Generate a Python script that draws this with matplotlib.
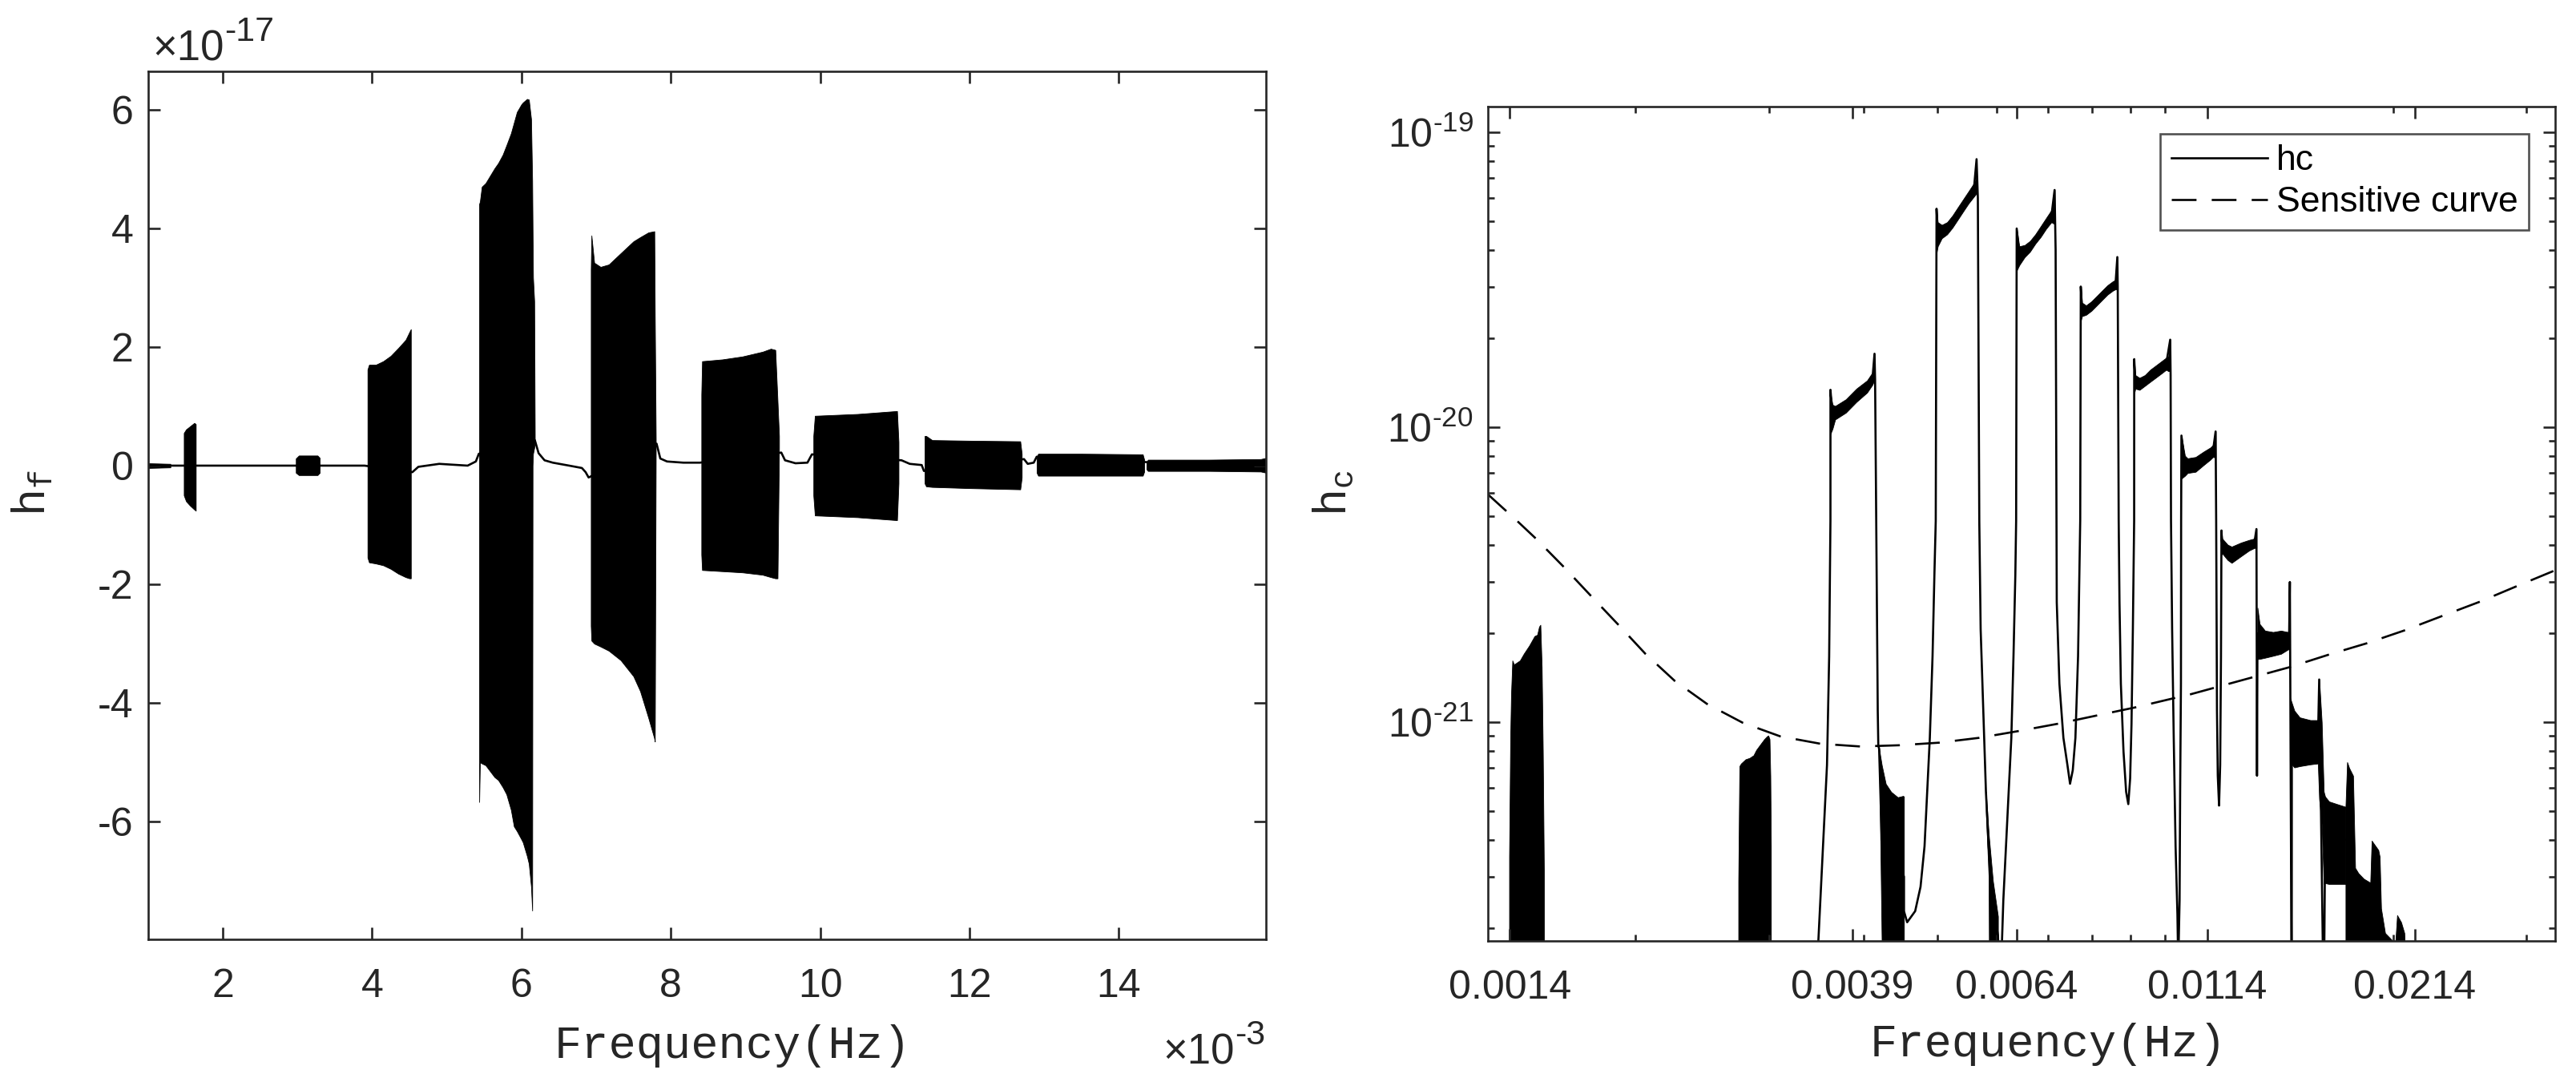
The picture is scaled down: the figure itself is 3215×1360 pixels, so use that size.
"""
Two-panel strain plot: h_f against frequency (linear) and characteristic
strain h_c against frequency (log-log) with the detector sensitivity curve.
Values are read off the reference figure.
"""

import numpy as np
import matplotlib
matplotlib.use("Agg")
import matplotlib.pyplot as plt
from matplotlib.ticker import FixedLocator, FixedFormatter, FuncFormatter, LogLocator, NullFormatter

plt.rcParams["font.family"] = ["Liberation Sans", "DejaVu Sans"]
plt.rcParams["axes.unicode_minus"] = False
plt.rcParams["mathtext.fontset"] = "custom"
plt.rcParams["mathtext.tt"] = "Liberation Mono"
plt.rcParams["mathtext.rm"] = "Liberation Sans"

AXIS_COLOR = "#262626"
XSCALE = 1e-3    # left panel frequency unit
YSCALE = 1e-17   # left panel strain unit
FLOOR = 1e-23    # hc far below the plotted range

# ---------------- left panel: h_f (x in 1e-3 Hz, y in 1e-17) ----------------
LEFT_LINE_X = [1.00, 2.00, 3.90, 4.54, 4.62, 4.90, 5.28, 5.39, 5.43, 6.18, 6.23, 6.31,
               6.42, 6.64, 6.81, 6.86, 6.90, 7.81, 7.86, 7.95, 8.17, 8.39, 9.48, 9.53,
               9.67, 9.83, 9.89, 11.09, 11.20, 11.36, 11.39, 12.73, 12.78, 12.86, 12.90,
               14.36, 15.97]
LEFT_LINE_Y = [0.0, 0.0, 0.0, -0.11, -0.02, 0.03, 0.0, 0.07, 0.20, 0.43, 0.21, 0.09,
               0.05, 0.0, -0.04, -0.11, -0.20, 0.37, 0.12, 0.07, 0.05, 0.05, 0.22, 0.09,
               0.04, 0.05, 0.19, 0.09, 0.03, 0.01, -0.09, 0.11, 0.03, 0.05, 0.15,
               0.06, 0.0]

LEFT_BLOCK_X = [
    [1.00, 1.30],
    [1.48, 1.51, 1.56, 1.62, 1.64],
    [2.98, 3.02, 3.15, 3.27, 3.30],
    [3.94, 3.96, 4.05, 4.15, 4.25, 4.35, 4.45, 4.50, 4.52],
    [5.435, 5.445, 5.47, 5.52, 5.64, 5.69, 5.75, 5.80, 5.86, 5.90, 5.94, 6.00, 6.02,
     6.075, 6.10, 6.13, 6.145, 6.15, 6.156, 6.172, 6.18],
    [6.93, 6.938, 6.975, 7.06, 7.17, 7.33, 7.50, 7.59, 7.70, 7.78, 7.787, 7.80],
    [8.41, 8.42, 8.69, 8.96, 9.23, 9.34, 9.40, 9.43, 9.45],
    [9.91, 9.93, 10.5, 11.03, 11.05],
    [11.40, 11.42, 11.50, 12.0, 12.68, 12.70],
    [12.90, 12.92, 13.5, 14.32, 14.34],
    [14.37, 14.39, 15.2, 15.9, 15.97],
]
LEFT_BLOCK_TOP = [
    [0.04, 0.03],
    [0.55, 0.61, 0.66, 0.72, 0.70],
    [0.12, 0.17, 0.17, 0.17, 0.13],
    [1.62, 1.70, 1.70, 1.76, 1.85, 1.98, 2.12, 2.25, 2.30],
    [4.41, 4.45, 4.70, 4.76, 5.01, 5.10, 5.24, 5.40, 5.60, 5.78, 5.96, 6.09, 6.12,
     6.18, 6.17, 5.84, 4.80, 4.00, 3.17, 2.77, 0.43],
    [3.30, 3.88, 3.42, 3.35, 3.39, 3.58, 3.78, 3.85, 3.93, 3.95, 2.50, 0.40],
    [1.20, 1.76, 1.79, 1.84, 1.92, 1.97, 1.95, 1.09, 0.50],
    [0.50, 0.84, 0.87, 0.92, 0.40],
    [0.50, 0.50, 0.43, 0.42, 0.41, 0.20],
    [0.15, 0.20, 0.20, 0.19, 0.10],
    [0.06, 0.10, 0.10, 0.11, 0.13],
]
LEFT_BLOCK_BOT = [
    [-0.04, -0.03],
    [-0.50, -0.60, -0.67, -0.74, -0.76],
    [-0.12, -0.16, -0.16, -0.16, -0.12],
    [-1.55, -1.63, -1.65, -1.68, -1.74, -1.82, -1.88, -1.90, -1.90],
    [-5.67, -5.00, -5.02, -5.05, -5.25, -5.30, -5.42, -5.54, -5.80, -6.08, -6.16, -6.30,
     -6.35, -6.58, -6.71, -7.10, -7.50, 0.0, 0.20, 0.30, 0.43],
    [-2.70, -2.95, -3.00, -3.05, -3.12, -3.28, -3.55, -3.80, -4.25, -4.60, -4.65, 0.40],
    [-1.50, -1.76, -1.78, -1.80, -1.84, -1.88, -1.90, -1.90, 0.30],
    [-0.50, -0.84, -0.87, -0.92, -0.30],
    [-0.30, -0.35, -0.36, -0.38, -0.40, -0.20],
    [-0.12, -0.17, -0.17, -0.17, -0.10],
    [-0.06, -0.09, -0.09, -0.10, -0.12],
]
LEFT_XTICKS = [2, 4, 6, 8, 10, 12, 14]
LEFT_YTICKS = [-6, -4, -2, 0, 2, 4, 6]

# ---------------- right panel: h_c (Hz, strain) ----------------
RIGHT_LINE_F = [0.00347, 0.0034864, 0.0035358, 0.003579, 0.0036026, 0.0036166, 0.003617,
                0.0036394, 0.0039132, 0.004109, 0.004135, 0.0041424, 0.0041758, 0.004183,
                0.0041932, 0.004227, 0.004522, 0.004522, 0.0045664, 0.0046788, 0.0047558,
                0.004814, 0.0048528, 0.004892, 0.0049326, 0.0049604, 0.0049808, 0.004993,
                0.0050116, 0.0051566, 0.005414, 0.0055922, 0.0056388, 0.0056608, 0.0056856,
                0.0057092, 0.0057552, 0.0058016, 0.0058498, 0.0059258, 0.0060176, 0.00606,
                0.0060912, 0.0061164, 0.0061658, 0.006217, 0.0062672, 0.0063084, 0.0063438,
                0.0063594, 0.0063702, 0.0064212, 0.006742, 0.0070788, 0.007148, 0.00717,
                0.007195, 0.007253, 0.0073418, 0.0074318, 0.0074916, 0.0075538, 0.0076148,
                0.0076762, 0.0077268, 0.00774, 0.00777, 0.0079948, 0.008394, 0.008601,
                0.0086494, 0.00866, 0.0086852, 0.0087064, 0.0087426, 0.008813, 0.008884,
                0.0089426, 0.0089928, 0.00903, 0.0090676, 0.009103, 0.009105, 0.0091368,
                0.0095574, 0.0100346, 0.0101572, 0.01017, 0.010182, 0.0102168, 0.0102668,
                0.0103244, 0.0103824, 0.0104078, 0.010451, 0.0104688, 0.0104944, 0.01050,
                0.01051, 0.0106228, 0.0109722, 0.0115672, 0.0116604, 0.0116804, 0.0117088,
                0.0117374, 0.0117832, 0.0118234, 0.0118524, 0.0118696, 0.0118986, 0.0122424,
                0.0131144, 0.0132012, 0.0132238, 0.013243, 0.0138834, 0.0145772, 0.0146128,
                0.014695, 0.0147, 0.0155532, 0.0159132, 0.0159752, 0.0161, 0.0161986,
                0.016266, 0.0173074, 0.0173916, 0.017708, 0.0199172, 0.0207444, 0.0215]
RIGHT_LINE_H = [1.2e-22, 1.82e-22, 3.80e-22, 7.17e-22, 1.673e-21, 4.815e-21, 1.34e-20,
                1.09e-20, 1.28e-20, 1.46e-20, 1.776e-20, 1.45e-20, 1.0955e-21, 8.32e-22,
                8.14e-22, 4.0e-22, 3.0e-22, 2.29e-22, 2.10e-22, 2.29e-22, 2.77e-22,
                3.80e-22, 5.81e-22, 8.86e-22, 1.673e-21, 3.155e-21, 4.815e-21, 5.507e-20,
                4.5e-20, 4.73e-20, 5.65e-20, 6.38e-20, 8.11e-20, 6.0e-20, 4.815e-21,
                2.066e-21, 1.0955e-21, 5.81e-22, 3.80e-22, 2.4e-22, 1.9e-22, 1.2e-22,
                1.82e-22, 2.49e-22, 3.80e-22, 5.81e-22, 8.86e-22, 1.673e-21, 3.155e-21,
                4.815e-21, 4.72e-20, 3.82e-20, 4.35e-20, 5.2e-20, 6.376e-20, 4.0e-20,
                2.553e-21, 1.353e-21, 8.86e-22, 7.17e-22, 6.19e-22, 6.88e-22, 8.86e-22,
                1.673e-21, 4.815e-21, 3.0e-20, 2.51e-20, 2.58e-20, 2.92e-20, 3.05e-20,
                3.777e-20, 3.0e-20, 4.815e-21, 2.553e-21, 1.353e-21, 7.97e-22, 5.81e-22,
                5.28e-22, 6.45e-22, 9.86e-22, 2.066e-21, 4.815e-21, 1.703e-20, 1.43e-20,
                1.5e-20, 1.64e-20, 1.982e-20, 1.5e-20, 4.815e-21, 2.066e-21, 8.86e-22,
                3.80e-22, 2.24e-22, 1.5e-22, 2.49e-22, 5.81e-22, 1.353e-21, 4.815e-21,
                9.376e-21, 7.4e-21, 7.49e-21, 8.3e-21, 9.68e-21, 4.815e-21, 1.0955e-21,
                6.59e-22, 5.22e-22, 7.17e-22, 1.673e-21, 4.47e-21, 3.96e-21, 3.7e-21,
                4.04e-21, 4.52e-21, 6.59e-22, 2.0e-21, 1.85e-21, 1.9e-21, 2.99e-21,
                1.0e-22, 9.0e-22, 8.6e-22, 8.6e-22, 1.397e-21, 3.2e-22, 1.0e-22,
                4.0e-22, 4.0e-22, 4.0e-22, 2.5e-22, 1.5e-22, 1.5e-22, 1.0e-22]

RIGHT_FILL_F = [
    [0.0013622, 0.0013669, 0.0013702, 0.0013756, 0.0013823, 0.0014074, 0.0014246, 0.0014477,
     0.0014714, 0.0014834, 0.001492, 0.0014978, 0.001504, 0.0015089, 0.001514],
    [0.0027336, 0.0027428, 0.0027562, 0.002794, 0.0028282, 0.0028628, 0.0028866, 0.002922,
     0.0029578, 0.0029816, 0.002994, 0.0030058, 0.003013, 0.0030182],
    [0.0036166, 0.0036394, 0.0036688, 0.0037896, 0.0039132, 0.004042, 0.004109, 0.004135],
    [0.0041932, 0.004227, 0.0042788, 0.0043492, 0.004438, 0.004511, 0.004522],
    [0.004993, 0.0050116, 0.005073, 0.0051566, 0.0052414, 0.0053264, 0.005414, 0.005503,
     0.0055922, 0.005629, 0.0056388],
    [0.0058016, 0.0058498, 0.0058872, 0.0059258, 0.0060176],
    [0.0063702, 0.0064212, 0.0065272, 0.006633, 0.006742, 0.006853, 0.0069642, 0.0070788,
     0.0071254, 0.007148],
    [0.00774, 0.00777, 0.0078652, 0.0079948, 0.0081264, 0.008258, 0.008394, 0.0085322,
     0.008601, 0.0086494],
    [0.009103, 0.0091368, 0.0092528, 0.009405, 0.0095574, 0.0097146, 0.0098746, 0.0100346,
     0.0101006, 0.0101572],
    [0.01051, 0.0106228, 0.0107086, 0.0109722, 0.0112424, 0.0114718, 0.0115672, 0.0116604],
    [0.0118696, 0.0118986, 0.0120942, 0.0122424, 0.012596, 0.0129054, 0.0131144, 0.0132012],
    [0.013243, 0.0133304, 0.0135498, 0.0138834, 0.0142254, 0.0145172, 0.0145772, 0.0146128],
    [0.0146128, 0.0148136, 0.0150572, 0.0155532, 0.0159132, 0.0159752, 0.0161, 0.0161986],
    [0.0161986, 0.016266, 0.016461, 0.0168662, 0.0173074],
    [0.0173074, 0.0173916, 0.0175, 0.017708, 0.0178204, 0.017995, 0.0182876, 0.0186614,
     0.0187388, 0.0191214, 0.0192008, 0.0192806, 0.0195168, 0.0199172],
    [0.020078, 0.0202452, 0.0204932, 0.020694, 0.0207444],
]
RIGHT_FILL_TOP = [
    [3.50e-22, 8.86e-22, 1.24e-21, 1.62e-21, 1.57e-21, 1.62e-21, 1.71e-21, 1.82e-21,
     1.96e-21, 1.98e-21, 2.11e-21, 2.14e-21, 1.54e-21, 8.06e-22, 3.15e-22],
    [2.89e-22, 7.10e-22, 7.25e-22, 7.49e-22, 7.57e-22, 7.73e-22, 8.06e-22, 8.41e-22,
     8.77e-22, 8.96e-22, 9.02e-22, 8.77e-22, 6.59e-22, 3.80e-22],
    [1.31e-20, 1.193e-20, 1.181e-20, 1.244e-20, 1.352e-20, 1.441e-20, 1.534e-20, 1.776e-20],
    [8.14e-22, 7.17e-22, 6.19e-22, 5.81e-22, 5.57e-22, 5.63e-22, 5.60e-22],
    [5.507e-20, 4.959e-20, 4.854e-20, 4.959e-20, 5.226e-20, 5.565e-20, 5.926e-20, 6.31e-20,
     6.718e-20, 6.934e-20, 8.11e-20],
    [5.81e-22, 4.2e-22, 3.5e-22, 2.9e-22, 2.2e-22],
    [4.72e-20, 4.108e-20, 4.149e-20, 4.283e-20, 4.512e-20, 4.806e-20, 5.117e-20, 5.45e-20,
     5.623e-20, 6.376e-20],
    [3.0e-20, 2.646e-20, 2.59e-20, 2.673e-20, 2.787e-20, 2.906e-20, 3.03e-20, 3.126e-20,
     3.16e-20, 3.777e-20],
    [1.703e-20, 1.503e-20, 1.471e-20, 1.503e-20, 1.567e-20, 1.617e-20, 1.669e-20, 1.722e-20,
     1.74e-20, 1.982e-20],
    [9.376e-21, 8.01e-21, 7.85e-21, 7.93e-21, 8.27e-21, 8.535e-21, 8.71e-21, 9.68e-21],
    [4.47e-21, 4.196e-21, 4.0e-21, 3.94e-21, 4.066e-21, 4.15e-21, 4.196e-21, 4.52e-21],
    [2.446e-21, 2.155e-21, 2.045e-21, 2.023e-21, 2.045e-21, 2.023e-21, 2.05e-21, 2.99e-21],
    [1.218e-21, 1.0955e-21, 1.039e-21, 1.017e-21, 1.017e-21, 1.397e-21, 1.0e-21, 5.81e-22],
    [5.81e-22, 5.6e-22, 5.39e-22, 5.28e-22, 5.17e-22],
    [5.17e-22, 7.33e-22, 7.0e-22, 6.59e-22, 3.21e-22, 3.08e-22, 2.95e-22, 2.86e-22,
     3.97e-22, 3.69e-22, 3.50e-22, 2.34e-22, 1.93e-22, 1.83e-22],
    [1.6e-22, 2.22e-22, 2.10e-22, 1.93e-22, 1.6e-22],
]
RIGHT_FILL_BOT = [
    [FLOOR] * 15,
    [FLOOR] * 14,
    [9.5e-21, 9.88e-21, 1.063e-20, 1.121e-20, 1.219e-20, 1.311e-20, 1.395e-20, 1.45e-20],
    [8.0e-22, 1.8e-22, FLOOR, FLOOR, FLOOR, FLOOR, FLOOR],
    [3.9e-20, 4.108e-20, 4.373e-20, 4.512e-20, 4.755e-20, 5.061e-20, 5.393e-20, 5.741e-20,
     6.05e-20, 6.177e-20, 6.2e-20],
    [5.0e-22, 3.0e-22, FLOOR, FLOOR, FLOOR],
    [3.4e-20, 3.546e-20, 3.777e-20, 3.939e-20, 4.194e-20, 4.42e-20, 4.705e-20, 4.959e-20,
     4.907e-20, 4.9e-20],
    [2.3e-20, 2.381e-20, 2.406e-20, 2.483e-20, 2.59e-20, 2.701e-20, 2.817e-20, 2.906e-20,
     2.937e-20, 2.93e-20],
    [1.3e-20, 1.352e-20, 1.339e-20, 1.382e-20, 1.426e-20, 1.471e-20, 1.518e-20, 1.567e-20,
     1.55e-20, 1.55e-20],
    [6.7e-21, 6.85e-21, 7.0e-21, 7.066e-21, 7.447e-21, 7.766e-21, 7.93e-21, 7.9e-21],
    [3.7e-21, 3.736e-21, 3.55e-21, 3.47e-21, 3.656e-21, 3.82e-21, 3.898e-21, 3.9e-21],
    [1.638e-21, 1.64e-21, 1.655e-21, 1.68e-21, 1.707e-21, 1.763e-21, 1.77e-21, 1.78e-21],
    [7.33e-22, 7.03e-22, 7.10e-22, 7.2e-22, 7.25e-22, 5.5e-22, 4.5e-22, 2.83e-22],
    [2.83e-22, 2.85e-22, 2.83e-22, 2.83e-22, 2.83e-22],
    [FLOOR] * 14,
    [FLOOR] * 5,
]

SENS_F = [0.0012774, 0.0013956, 0.0014774, 0.0016086, 0.0017448, 0.0019004, 0.0020608,
          0.002253, 0.0024844, 0.0027714, 0.0031054, 0.0035076, 0.003962, 0.0044562,
          0.0050324, 0.0056856, 0.0064212, 0.0072236, 0.0081252, 0.0091368, 0.010241,
          0.0107936, 0.013009, 0.014578, 0.016461, 0.018435, 0.020658, 0.023142, 0.02604,
          0.02905, 0.032552]
SENS_H = [5.92e-21, 4.815e-21, 4.196e-21, 3.36e-21, 2.69e-21, 2.135e-21, 1.707e-21,
          1.382e-21, 1.155e-21, 9.96e-22, 8.96e-22, 8.46e-22, 8.28e-22, 8.36e-22,
          8.53e-22, 8.86e-22, 9.35e-22, 9.89e-22, 1.0545e-21, 1.1236e-21, 1.205e-21,
          1.2435e-21, 1.418e-21, 1.536e-21, 1.697e-21, 1.851e-21, 2.045e-21, 2.286e-21,
          2.564e-21, 2.886e-21, 3.257e-21]

RIGHT_XTICKS = [0.001365, 0.003865, 0.006365, 0.011365, 0.021365]
RIGHT_XTICKLABELS = ["0.0014", "0.0039", "0.0064", "0.0114", "0.0214"]
RIGHT_YTICKS = [1e-21, 1e-20, 1e-19]


def style_axes(ax):
    for s in ax.spines.values():
        s.set_linewidth(1.9)
        s.set_color(AXIS_COLOR)
    ax.tick_params(which="both", direction="in", top=True, right=True,
                   color=AXIS_COLOR, width=1.9, labelsize=36, labelcolor=AXIS_COLOR)
    ax.tick_params(which="major", length=10.5)
    ax.tick_params(which="minor", length=6)
    ax.tick_params(axis="x", which="both", pad=26)
    ax.tick_params(axis="y", which="both", pad=13)


def exponent_label(ax, x, y, power, ha):
    # MATLAB style "x10" with a raised exponent
    base = ax.text(x, y, "\u00d710", transform=ax.transAxes, fontsize=38,
                   color=AXIS_COLOR, ha=ha, va="bottom")
    ax.annotate(power, xy=(1, 0), xycoords=base, xytext=(0, 19), textcoords="offset points",
                fontsize=31, color=AXIS_COLOR, ha="left", va="bottom")


def log_label(v, pos):
    return r"$\mathdefault{10^{\text{-}%d}}$" % round(-np.log10(v))


def main():
    fig = plt.figure(figsize=(32.15, 13.6), dpi=100)

    # ---- left panel ----
    ax1 = fig.add_axes([0.05745, 0.13846, 0.43400, 0.79632])
    xs = np.array(LEFT_LINE_X) * XSCALE
    ys = np.array(LEFT_LINE_Y) * YSCALE
    ax1.plot(xs, ys, color="black", lw=1.9)
    for bx, bt, bb in zip(LEFT_BLOCK_X, LEFT_BLOCK_TOP, LEFT_BLOCK_BOT):
        ax1.fill_between(np.array(bx) * XSCALE, np.array(bb) * YSCALE,
                         np.array(bt) * YSCALE, color="black", lw=0.6)
    ax1.set_xlim(1.0 * XSCALE, 15.97 * XSCALE)
    ax1.set_ylim(-7.98 * YSCALE, 6.65 * YSCALE)
    ax1.xaxis.set_major_locator(FixedLocator([t * XSCALE for t in LEFT_XTICKS]))
    ax1.yaxis.set_major_locator(FixedLocator([t * YSCALE for t in LEFT_YTICKS]))
    ax1.xaxis.set_major_formatter(FuncFormatter(lambda v, p: f"{v / XSCALE:g}"))
    ax1.yaxis.set_major_formatter(FuncFormatter(lambda v, p: f"{round(v / YSCALE):g}"))
    style_axes(ax1)

    ax1.set_xlabel("Frequency(Hz)", fontfamily="Liberation Mono", fontsize=41, color=AXIS_COLOR)
    ax1.xaxis.set_label_coords(0.5226, -0.1365)
    ax1.xaxis.label.set_va("baseline")
    ax1.set_ylabel(r"$\mathtt{h_f}$", fontsize=41, color=AXIS_COLOR)
    ax1.yaxis.set_label_coords(-0.103, 0.514)
    ax1.yaxis.label.set_va("center")

    exponent_label(ax1, 0.0043, 1.0018, "-17", "left")
    exponent_label(ax1, 0.972, -0.154, "-3", "right")

    # ---- right panel ----
    ax2 = fig.add_axes([0.57751, 0.13676, 0.41449, 0.76522])
    ax2.set_xscale("log")
    ax2.set_yscale("log")
    ax2.plot(RIGHT_LINE_F, RIGHT_LINE_H, color="black", lw=1.9, label="hc")
    for ff, ft, fb in zip(RIGHT_FILL_F, RIGHT_FILL_TOP, RIGHT_FILL_BOT):
        ax2.fill_between(ff, fb, ft, color="black", lw=0.6)
    ax2.plot(SENS_F, SENS_H, color="black", lw=1.9, linestyle=(0, (11.7, 7.2)),
             label="Sensitive curve")
    ax2.set_xlim(0.001276, 0.03275)
    ax2.set_ylim(1.815e-22, 1.22e-19)
    ax2.xaxis.set_major_locator(FixedLocator(RIGHT_XTICKS))
    ax2.xaxis.set_major_formatter(FixedFormatter(RIGHT_XTICKLABELS))
    ax2.xaxis.set_minor_locator(LogLocator(base=10, subs=np.arange(1, 10), numticks=50))
    ax2.xaxis.set_minor_formatter(NullFormatter())
    ax2.yaxis.set_major_locator(FixedLocator(RIGHT_YTICKS))
    ax2.yaxis.set_major_formatter(FuncFormatter(log_label))
    ax2.yaxis.set_minor_locator(LogLocator(base=10, subs=np.arange(2, 10), numticks=50))
    ax2.yaxis.set_minor_formatter(NullFormatter())
    style_axes(ax2)

    ax2.set_xlabel("Frequency(Hz)", fontfamily="Liberation Mono", fontsize=41, color=AXIS_COLOR)
    ax2.xaxis.set_label_coords(0.5248, -0.1384)
    ax2.xaxis.label.set_va("baseline")
    ax2.set_ylabel(r"$\mathtt{h_c}$", fontsize=41, color=AXIS_COLOR)
    ax2.yaxis.set_label_coords(-0.144, 0.537)
    ax2.yaxis.label.set_va("center")

    leg = ax2.legend(loc="upper right", bbox_to_anchor=(0.975, 0.9676), fontsize=32,
                     handlelength=2.7, handletextpad=0.25, labelspacing=0.25,
                     borderpad=0.3, borderaxespad=0, frameon=True, fancybox=False)
    leg.get_frame().set_edgecolor(AXIS_COLOR)
    leg.get_frame().set_linewidth(1.9)

    fig.savefig("out.png", dpi=100)


if __name__ == "__main__":
    main()
